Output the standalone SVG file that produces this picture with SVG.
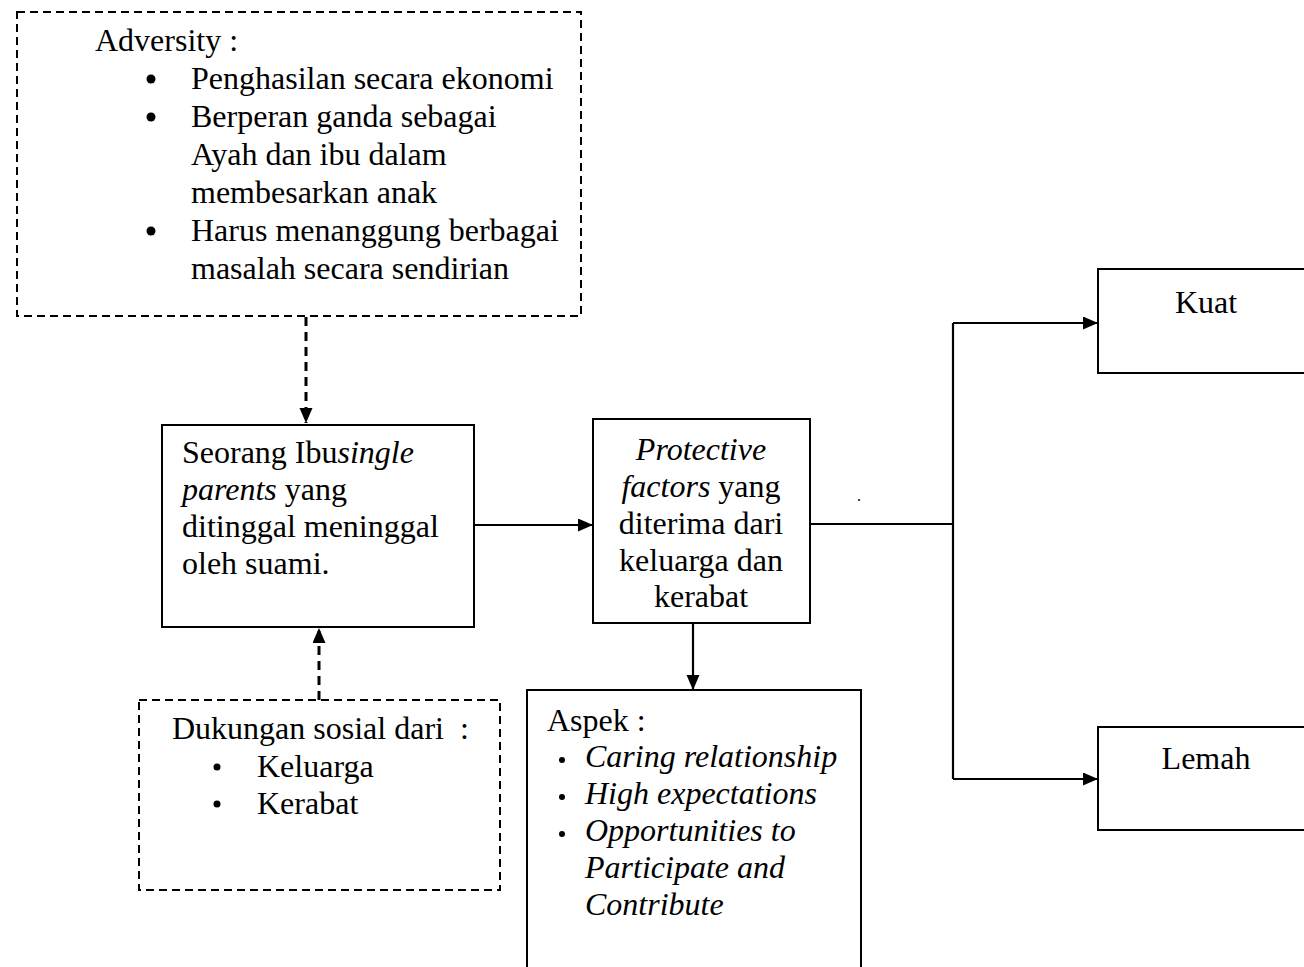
<svg xmlns="http://www.w3.org/2000/svg" width="1304" height="967" viewBox="0 0 1304 967">
<defs>
<style>
text{font-family:"Liberation Serif","Times New Roman",serif;font-size:32px;fill:#000}
.it{font-style:italic}
.box{fill:#fff;stroke:#000;stroke-width:2}
.dbox{fill:#fff;stroke:#000;stroke-width:2;stroke-dasharray:8 5}
.ln{fill:none;stroke:#000;stroke-width:2.2}
.dln{fill:none;stroke:#000;stroke-width:3;stroke-dasharray:9 6}
.c{text-anchor:middle}
</style>
<marker id="ah" markerUnits="userSpaceOnUse" markerWidth="16" markerHeight="14" refX="15" refY="6.5" orient="auto">
<path d="M0,0 L15,6.5 L0,13 Z" fill="#000"/>
</marker>
</defs>
<rect width="1304" height="967" fill="#fff"/>

<g id="connectors">
<path class="dln" d="M306,317 V423" marker-end="url(#ah)"/>
<path class="dln" d="M319,700 V628" marker-end="url(#ah)"/>
<path class="ln" d="M474,525 H593" marker-end="url(#ah)"/>
<path class="ln" d="M693,623 V690" marker-end="url(#ah)"/>
<path class="ln" d="M810,524 H953"/>
<path class="ln" d="M953,323 V779"/>
<path class="ln" d="M953,323 H1098" marker-end="url(#ah)"/>
<path class="ln" d="M953,779 H1098" marker-end="url(#ah)"/>
</g>

<g id="adversity">
<rect class="dbox" x="17" y="12" width="564" height="304"/>
<text x="95" y="51">Adversity :</text>
<circle cx="151" cy="79" r="4.5"/>
<text x="191" y="89">Penghasilan secara ekonomi</text>
<circle cx="151" cy="117" r="4.5"/>
<text x="191" y="127">Berperan ganda sebagai</text>
<text x="191" y="165">Ayah dan ibu dalam</text>
<text x="191" y="203">membesarkan anak</text>
<circle cx="151" cy="231" r="4.5"/>
<text x="191" y="241">Harus menanggung berbagai</text>
<text x="191" y="279">masalah secara sendirian</text>
</g>

<g id="ibu">
<rect class="box" x="162" y="425" width="312" height="202"/>
<text x="182" y="463">Seorang Ibu<tspan class="it">single</tspan></text>
<text x="182" y="500"><tspan class="it">parents</tspan> yang</text>
<text x="182" y="537">ditinggal meninggal</text>
<text x="182" y="574">oleh suami.</text>
</g>

<g id="protective">
<rect class="box" x="593" y="419" width="217" height="204"/>
<text class="c it" x="701" y="460">Protective</text>
<text class="c" x="701" y="497"><tspan class="it">factors</tspan> yang</text>
<text class="c" x="701" y="534">diterima dari</text>
<text class="c" x="701" y="571">keluarga dan</text>
<text class="c" x="701" y="607">kerabat</text>
</g>

<text x="857" y="501" style="font-size:16px">.</text>

<g id="dukungan">
<rect class="dbox" x="139" y="700" width="361" height="190"/>
<text x="172" y="739" style="white-space:pre">Dukungan sosial dari  :</text>
<circle cx="217" cy="767" r="3.5"/>
<text x="257" y="777">Keluarga</text>
<circle cx="217" cy="804" r="3.5"/>
<text x="257" y="814">Kerabat</text>
</g>

<g id="aspek">
<rect class="box" x="527" y="690" width="334" height="290"/>
<text x="547" y="731">Aspek :</text>
<circle cx="562" cy="760" r="3"/>
<text class="it" x="585" y="767">Caring relationship</text>
<circle cx="562" cy="797" r="3"/>
<text class="it" x="585" y="804">High expectations</text>
<circle cx="562" cy="834" r="3"/>
<text class="it" x="585" y="841">Opportunities to</text>
<text class="it" x="585" y="878">Participate and</text>
<text class="it" x="585" y="915">Contribute</text>
</g>

<g id="kuat">
<rect class="box" x="1098" y="269" width="220" height="104"/>
<text class="c" x="1206" y="313">Kuat</text>
</g>

<g id="lemah">
<rect class="box" x="1098" y="727" width="220" height="103"/>
<text class="c" x="1206" y="769">Lemah</text>
</g>
</svg>
